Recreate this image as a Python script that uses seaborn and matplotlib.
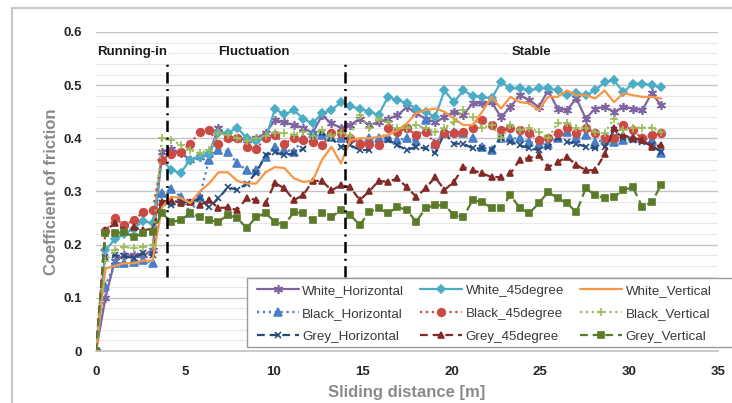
import numpy as np
import pandas as pd
import matplotlib
matplotlib.use("Agg")
import matplotlib.pyplot as plt
from matplotlib.lines import Line2D
from matplotlib.patches import Rectangle
from matplotlib.ticker import MultipleLocator
import seaborn as sns

distance = [
    0.00, 0.53, 1.06, 1.59, 2.12, 2.65, 3.18, 3.71, 4.24, 4.77,
    5.30, 5.83, 6.36, 6.89, 7.42, 7.95, 8.48, 9.01, 9.54, 10.07,
    10.60, 11.13, 11.66, 12.19, 12.72, 13.25, 13.78, 14.31, 14.84, 15.37,
    15.90, 16.43, 16.96, 17.49, 18.02, 18.55, 19.08, 19.61, 20.14, 20.67,
    21.20, 21.73, 22.26, 22.79, 23.32, 23.85, 24.38, 24.91, 25.44, 25.97,
    26.50, 27.03, 27.56, 28.09, 28.62, 29.15, 29.68, 30.21, 30.74, 31.27,
    31.80]

white_horizontal = [
    0, 0.10, 0.17, 0.18, 0.18, 0.18, 0.19, 0.375, 0.38, 0.372,
    0.36, 0.365, 0.37, 0.42, 0.40, 0.40, 0.396, 0.40, 0.41, 0.434,
    0.43, 0.425, 0.42, 0.41, 0.443, 0.428, 0.42, 0.425, 0.437, 0.425,
    0.43, 0.437, 0.443, 0.459, 0.447, 0.437, 0.43, 0.44, 0.45, 0.444,
    0.466, 0.466, 0.468, 0.44, 0.459, 0.481, 0.472, 0.459, 0.49, 0.456,
    0.453, 0.475, 0.437, 0.456, 0.459, 0.45, 0.459, 0.456, 0.453, 0.485,
    0.462]

white_45degree = [
    0, 0.19, 0.21, 0.22, 0.23, 0.245, 0.24, 0.36, 0.34, 0.335,
    0.36, 0.365, 0.37, 0.41, 0.41, 0.42, 0.40, 0.395, 0.40, 0.455,
    0.445, 0.453, 0.437, 0.428, 0.447, 0.453, 0.468, 0.46, 0.456, 0.45,
    0.444, 0.478, 0.472, 0.466, 0.456, 0.45, 0.44, 0.49, 0.468, 0.49,
    0.48, 0.478, 0.475, 0.506, 0.494, 0.494, 0.49, 0.494, 0.494, 0.49,
    0.481, 0.485, 0.481, 0.49, 0.506, 0.509, 0.487, 0.503, 0.503, 0.50,
    0.496]

white_vertical = [
    0, 0.155, 0.16, 0.165, 0.165, 0.17, 0.17, 0.27, 0.29, 0.288,
    0.278, 0.30, 0.315, 0.336, 0.336, 0.32, 0.315, 0.315, 0.336, 0.346,
    0.344, 0.325, 0.318, 0.32, 0.36, 0.384, 0.353, 0.397, 0.40, 0.40,
    0.403, 0.406, 0.415, 0.428, 0.447, 0.453, 0.456, 0.45, 0.437, 0.425,
    0.425, 0.45, 0.478, 0.456, 0.478, 0.468, 0.466, 0.453, 0.478, 0.478,
    0.49, 0.481, 0.481, 0.475, 0.49, 0.468, 0.485, 0.481, 0.478, 0.478,
    0.475]

black_horizontal = [
    0, 0.123, 0.165, 0.165, 0.168, 0.172, 0.165, 0.297, 0.305, 0.29,
    0.26, 0.29, 0.36, 0.378, 0.375, 0.353, 0.34, 0.34, 0.365, 0.384,
    0.378, 0.375, 0.40, 0.41, 0.406, 0.403, 0.40, 0.40, 0.393, 0.40,
    0.40, 0.40, 0.397, 0.40, 0.395, 0.434, 0.39, 0.412, 0.412, 0.41,
    0.40, 0.384, 0.378, 0.40, 0.40, 0.40, 0.393, 0.39, 0.39, 0.40,
    0.412, 0.40, 0.406, 0.393, 0.397, 0.393, 0.397, 0.40, 0.40, 0.397,
    0.372]

black_45degree = [
    0, 0.225, 0.25, 0.237, 0.246, 0.261, 0.265, 0.36, 0.37, 0.374,
    0.39, 0.412, 0.415, 0.39, 0.40, 0.40, 0.384, 0.38, 0.40, 0.406,
    0.39, 0.40, 0.397, 0.393, 0.387, 0.41, 0.41, 0.40, 0.39, 0.39,
    0.387, 0.419, 0.412, 0.419, 0.406, 0.412, 0.39, 0.41, 0.41, 0.412,
    0.42, 0.434, 0.425, 0.415, 0.419, 0.415, 0.41, 0.397, 0.40, 0.41,
    0.419, 0.41, 0.419, 0.41, 0.40, 0.40, 0.425, 0.415, 0.40, 0.406,
    0.41]

black_vertical = [
    0, 0.17, 0.19, 0.195, 0.194, 0.196, 0.20, 0.40, 0.397, 0.388,
    0.378, 0.372, 0.378, 0.41, 0.406, 0.40, 0.395, 0.40, 0.405, 0.41,
    0.41, 0.407, 0.412, 0.405, 0.415, 0.405, 0.41, 0.405, 0.443, 0.42,
    0.437, 0.43, 0.419, 0.42, 0.425, 0.419, 0.412, 0.42, 0.43, 0.453,
    0.44, 0.42, 0.425, 0.40, 0.425, 0.415, 0.42, 0.412, 0.40, 0.428,
    0.428, 0.42, 0.419, 0.412, 0.41, 0.437, 0.415, 0.42, 0.42, 0.42,
    0.412]

grey_horizontal = [
    0, 0.177, 0.18, 0.178, 0.175, 0.184, 0.18, 0.278, 0.274, 0.28,
    0.28, 0.287, 0.27, 0.287, 0.308, 0.303, 0.315, 0.335, 0.368, 0.374,
    0.368, 0.372, 0.38, 0.40, 0.41, 0.40, 0.384, 0.387, 0.378, 0.378,
    0.387, 0.397, 0.387, 0.378, 0.384, 0.381, 0.372, 0.41, 0.39, 0.39,
    0.381, 0.381, 0.378, 0.40, 0.393, 0.387, 0.381, 0.378, 0.384, 0.40,
    0.393, 0.39, 0.384, 0.381, 0.384, 0.415, 0.40, 0.397, 0.393, 0.387,
    0.374]

grey_45degree = [
    0, 0.227, 0.24, 0.227, 0.233, 0.227, 0.23, 0.28, 0.284, 0.278,
    0.28, 0.274, 0.284, 0.269, 0.27, 0.265, 0.288, 0.284, 0.278, 0.316,
    0.306, 0.284, 0.293, 0.32, 0.32, 0.302, 0.312, 0.308, 0.284, 0.30,
    0.32, 0.318, 0.325, 0.308, 0.29, 0.306, 0.327, 0.303, 0.318, 0.346,
    0.34, 0.334, 0.327, 0.327, 0.334, 0.36, 0.363, 0.368, 0.346, 0.355,
    0.365, 0.35, 0.34, 0.34, 0.37, 0.419, 0.406, 0.40, 0.397, 0.384,
    0.387]

grey_vertical = [
    0, 0.222, 0.222, 0.224, 0.214, 0.222, 0.224, 0.259, 0.243, 0.246,
    0.259, 0.252, 0.246, 0.243, 0.256, 0.25, 0.231, 0.252, 0.259, 0.243,
    0.237, 0.261, 0.259, 0.246, 0.259, 0.252, 0.265, 0.256, 0.237, 0.261,
    0.269, 0.259, 0.271, 0.265, 0.243, 0.269, 0.274, 0.274, 0.256, 0.252,
    0.284, 0.28, 0.269, 0.269, 0.293, 0.269, 0.259, 0.278, 0.299, 0.288,
    0.278, 0.261, 0.306, 0.293, 0.288, 0.29, 0.303, 0.308, 0.271, 0.28,
    0.312]

phase_labels = ["Running-in", "Fluctuation", "Stable"]
phase_x = [0.05, 8.9, 24.5]
phase_bounds = [4, 14]

sns.set_theme(style="white")
plt.rcParams["font.family"] = ["Liberation Sans", "DejaVu Sans"]

fig = plt.figure(figsize=(7.32, 4.03), dpi=100)
ax = fig.add_axes([96 / 732, 1 - 351 / 403, 622 / 732, 319 / 403])

series = [
    ("White_Horizontal", white_horizontal, "#8064A2", "-", (6, 2, 0), 6.5),
    ("Black_Horizontal", black_horizontal, "#4A7FC8", ":", "^", 6),
    ("Grey_Horizontal", grey_horizontal, "#254C7C", (0, (3.5, 2.2)), "x", 5),
    ("White_45degree", white_45degree, "#4BACC6", "-", "D", 4.5),
    ("Black_45degree", black_45degree, "#CC4A45", ":", "o", 5.5),
    ("Grey_45degree", grey_45degree, "#832A27", (0, (3.5, 2.2)), "^", 5),
    ("White_Vertical", white_vertical, "#F79646", "-", None, 0),
    ("Black_Vertical", black_vertical, "#9BBB59", ":", "+", 6),
    ("Grey_Vertical", grey_vertical, "#5B7B2B", (0, (3.5, 2.2)), "s", 5),
]

for name, vals, col, ls, mk, ms in series:
    df = pd.DataFrame({"distance": distance, "cof": vals})
    kw = dict(color=col, linestyle=ls, linewidth=1.6, label=name)
    if mk is not None:
        kw.update(marker=mk, markersize=ms, markeredgecolor=col,
                  markerfacecolor=col, markeredgewidth=1.2)
    sns.lineplot(data=df, x="distance", y="cof", ax=ax, **kw)

ax.set_xlim(0, 35)
ax.set_ylim(0, 0.6)
ax.xaxis.set_major_locator(MultipleLocator(5))
ax.yaxis.set_minor_locator(MultipleLocator(0.02))
ax.set_yticks([0, 0.1, 0.2, 0.3, 0.4, 0.5, 0.6])
ax.set_yticklabels(["0", "0.1", "0.2", "0.3", "0.4", "0.5", "0.6"])
ax.grid(axis="y", which="major", color="#c4c4c4", linewidth=1.0, zorder=0)
ax.grid(axis="y", which="minor", color="#e8e8e8", linewidth=0.8, zorder=0)
ax.grid(axis="x", visible=False)
ax.set_axisbelow(True)
for s in ["top", "right", "left"]:
    ax.spines[s].set_visible(False)
ax.spines["bottom"].set_color("#c4c4c4")
ax.tick_params(axis="y", which="both", length=0, labelsize=9.5, pad=10)
ax.tick_params(axis="x", which="both", length=0, labelsize=9.5, pad=11)
for lab in ax.get_xticklabels() + ax.get_yticklabels():
    lab.set_fontweight("bold")

ax.set_xlabel("Sliding distance [m]", fontsize=12, fontweight="bold",
              color="#8a8a8a", labelpad=5)
ax.set_ylabel("Coefficient of friction", fontsize=12, fontweight="bold",
              color="#8a8a8a", labelpad=3)

for xb in phase_bounds:
    ax.plot([xb, xb], [0.139, 0.545], color="black", linewidth=1.8,
            linestyle=(0, (4.5, 2.2, 0.8, 2.2)), zorder=5)

for lab, px in zip(phase_labels, phase_x):
    ha = "left" if lab == "Running-in" else "center"
    ax.text(px, 0.562, lab, fontsize=9.5, fontweight="bold", ha=ha, va="center",
            color="#1a1a1a", zorder=6,
            bbox=dict(facecolor="white", edgecolor="none", pad=1.5))

# legend box (extends past the right edge like the original)
box = Rectangle((151 / 622, 4 / 319), 500 / 622, 69 / 319,
                transform=ax.transAxes, facecolor="white",
                edgecolor="#9a9a9a", linewidth=1.0, clip_on=False, zorder=9)
ax.add_patch(box)

handles, labels = ax.get_legend_handles_labels()
leg = ax.legend(handles, labels, ncol=3, loc="upper left",
                bbox_to_anchor=(0.2475, 0.229), fontsize=9.6,
                frameon=False,
                handlelength=3.15, handletextpad=0.25, columnspacing=1.22,
                labelspacing=0.8, borderpad=0.5, borderaxespad=0.0)
leg.set_zorder(10)
for t in leg.get_texts():
    t.set_color("#3a3a3a")

fig.add_artist(Line2D([12 / 732, 1.0], [1 - 8 / 403, 1 - 8 / 403],
                      transform=fig.transFigure, color="#c8c8c8", linewidth=1.6))
fig.add_artist(Line2D([12 / 732, 12 / 732], [0.0, 1 - 8 / 403],
                      transform=fig.transFigure, color="#c8c8c8", linewidth=1.6))

fig.savefig("out.png", dpi=100)
